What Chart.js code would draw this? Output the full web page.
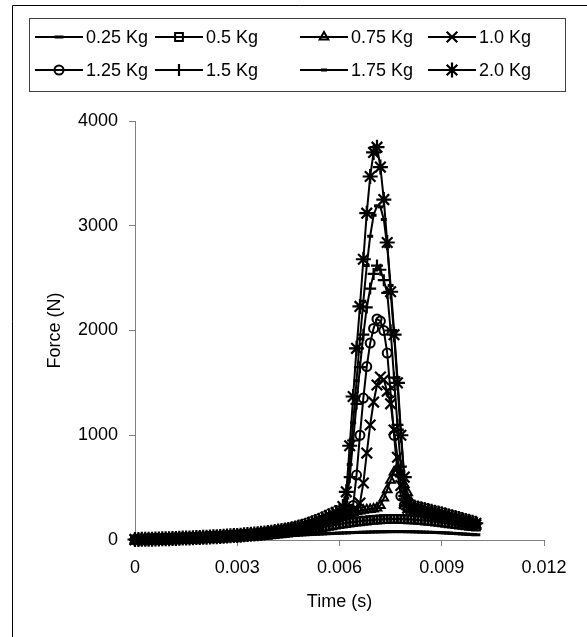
<!DOCTYPE html>
<html><head><meta charset="utf-8">
<script src="https://cdn.jsdelivr.net/npm/chart.js@4.4.0/dist/chart.umd.min.js"></script>
<style>
html,body{margin:0;padding:0;background:#fff;}
#wrap{position:relative;width:587px;height:637px;}
canvas{position:absolute;left:0;top:0;}
</style></head><body>
<div id="wrap"><canvas id="c" width="587" height="637"></canvas></div>
<script>
const times = [0,0.0001,0.0002,0.0003,0.0004,0.0005,0.0006,0.0007,0.0008,0.0009,
0.0010,0.0011,0.0012,0.0013,0.0014,0.0015,0.0016,0.0017,0.0018,0.0019,
0.0020,0.0021,0.0022,0.0023,0.0024,0.0025,0.0026,0.0027,0.0028,0.0029,
0.0030,0.0031,0.0032,0.0033,0.0034,0.0035,0.0036,0.0037,0.0038,0.0039,
0.0040,0.0041,0.0042,0.0043,0.0044,0.0045,0.0046,0.0047,0.0048,0.0049,
0.0050,0.0051,0.0052,0.0053,0.0054,0.0055,0.0056,0.0057,0.0058,0.0059,
0.0060,0.0061,0.0062,0.0063,0.0064,0.0065,0.0066,0.0067,0.0068,0.0069,
0.0070,0.0071,0.0072,0.0073,0.0074,0.0075,0.0076,0.0077,0.0078,0.0079,
0.0080,0.0081,0.0082,0.0083,0.0084,0.0085,0.0086,0.0087,0.0088,0.0089,
0.0090,0.0091,0.0092,0.0093,0.0094,0.0095,0.0096,0.0097,0.0098,0.0099,0.0100];

const seriesNames = ['0.25 Kg','0.5 Kg','0.75 Kg','1.0 Kg','1.25 Kg','1.5 Kg','1.75 Kg','2.0 Kg'];

const force025 = [0,1,1,2,2,3,3,4,4,5,6,
6,7,7,8,9,9,10,11,12,13,
13,14,15,16,17,18,19,20,21,22,
23,24,25,27,28,29,30,32,33,35,
36,38,39,41,42,44,45,47,49,50,
52,54,55,57,58,60,61,63,64,66,
67,68,70,71,72,73,74,75,76,77,
78,78,79,79,80,80,80,80,80,79,
79,78,77,76,75,74,73,72,71,69,
68,66,64,62,60,58,56,54,52,50];

const force050 = [2,3,3,4,4,5,6,6,7,8,8,
9,10,10,11,12,13,14,15,16,17,
18,19,20,21,23,24,26,27,29,31,
33,35,37,39,41,43,46,48,51,54,
57,60,63,67,71,75,79,84,89,94,
99,104,110,116,122,128,134,140,146,152,
157,162,167,171,175,179,183,186,189,192,
195,197,199,200,201,201,201,200,199,198,
196,194,192,189,186,183,180,176,172,168,
164,160,156,152,148,144,140,136,132,128];

const force075 = [3,3,4,5,5,6,7,7,8,9,10,
10,11,12,13,14,15,16,18,19,20,
21,22,24,25,27,28,30,32,34,36,
38,40,42,44,46,49,52,55,58,61,
65,69,73,77,82,87,93,99,106,113,
121,130,140,150,161,172,184,196,208,220,
232,243,253,262,270,277,283,288,292,296,
305,330,400,480,570,650,690,630,530,450,
360,312,300,290,280,270,260,250,240,230,
221,212,203,194,185,176,167,158,149,140];

const force100 = [3,4,4,5,6,6,7,8,9,9,10,
11,12,13,14,16,17,18,19,21,22,
23,25,26,28,30,31,33,35,37,39,
41,43,45,48,50,53,56,59,62,66,
70,74,78,83,88,94,100,107,114,122,
130,140,151,162,174,186,198,211,224,237,
250,262,273,283,292,353,544,830,1098,1317,
1480,1556,1530,1420,1300,1050,790,520,350,305,
298,290,282,274,266,258,250,242,234,226,
218,210,202,194,186,178,170,162,154,146];

const force125 = [4,4,5,5,6,7,8,9,9,10,11,
12,13,14,15,17,18,19,20,22,23,
24,26,27,29,31,33,35,37,39,41,
43,45,47,50,52,55,58,61,65,69,
73,77,82,87,93,99,105,112,120,128,
137,148,159,171,183,196,209,222,236,250,
264,278,292,330,620,1000,1355,1656,1880,2020,
2110,2090,2000,1785,1400,1000,650,420,330,305,
298,291,284,277,270,262,254,246,238,230,
222,214,206,198,190,181,172,163,154,146];

const force150 = [4,4,5,6,6,7,8,9,10,11,12,
13,14,15,16,17,19,20,21,23,24,
25,27,28,30,32,34,36,38,40,42,
44,46,49,51,54,57,60,63,67,71,
75,80,85,90,96,102,109,116,124,133,
143,154,166,178,191,205,219,233,248,262,
280,330,600,950,1300,1650,1960,2220,2400,2540,
2620,2580,2480,2360,2000,1550,1100,700,420,325,
314,306,298,290,282,274,266,258,250,242,
234,226,218,209,200,191,182,173,164,156];

const force175 = [4,5,5,6,7,8,9,9,10,11,12,
13,14,16,17,18,19,21,22,23,25,
26,28,29,31,33,35,37,39,41,43,
45,47,50,52,55,58,62,65,69,73,
78,82,87,92,98,105,112,120,128,138,
148,159,171,183,197,211,225,240,255,270,
300,400,720,1120,1520,1920,2280,2620,2900,3100,
3190,3180,3060,2800,2430,2000,1550,1050,600,340,
318,310,302,294,286,278,270,262,254,246,
238,229,220,211,202,193,184,175,166,158];

const force200 = [5,5,6,6,7,8,9,10,11,12,13,
14,15,17,18,19,20,22,23,24,26,
27,29,30,32,34,36,38,40,42,44,
46,49,52,54,57,60,64,67,71,75,
80,85,90,95,101,108,115,123,132,142,
153,164,176,189,203,217,232,247,262,278,
320,460,900,1370,1830,2230,2680,3120,3470,3700,
3750,3560,3250,2840,2370,1960,1500,1000,600,340,
322,314,306,298,290,282,274,266,258,250,
241,232,223,214,205,196,187,178,169,160];

const xTickValues = [0,0.003,0.006,0.009,0.012];
const xTickLabels = ['0','0.003','0.006','0.009','0.012'];
const yTickValues = [0,1000,2000,3000,4000];
const yTickLabels = ['0','1000','2000','3000','4000'];

const seriesValues = [force025,force050,force075,force100,force125,force150,force175,force200];

const markerStyles = [
  {pointStyle:'line', radius:4.5, borderWidth:3},
  {pointStyle:'rect', radius:5.5, borderWidth:2},
  {pointStyle:'triangle', radius:5, borderWidth:2},
  {pointStyle:'crossRot', radius:7.5, borderWidth:2.2},
  {pointStyle:'circle', radius:4.5, borderWidth:2},
  {pointStyle:'cross', radius:6, borderWidth:2.2},
  {pointStyle:'line', radius:3, borderWidth:3},
  {pointStyle:'star', radius:7.5, borderWidth:2.2}
];

const FONT = '"Liberation Sans", Arial, sans-serif';

const datasets = seriesNames.map((name, k) => ({
  label: name,
  data: times.map((t, i) => ({x: t, y: seriesValues[k][i]})),
  borderColor: '#000',
  borderWidth: 2,
  backgroundColor: 'rgba(0,0,0,0)',
  pointStyle: markerStyles[k].pointStyle,
  pointRadius: markerStyles[k].radius,
  pointBorderWidth: markerStyles[k].borderWidth,
  pointBorderColor: '#000',
  pointBackgroundColor: 'rgba(0,0,0,0)',
  tension: 0,
  clip: false,
  fill: false
}));

const boxLegend = {
  id: 'boxLegend',
  afterDraw(chart) {
    const ctx = chart.ctx;
    ctx.save();
    ctx.strokeStyle = '#000';
    ctx.lineWidth = 1;
    ctx.beginPath();
    ctx.moveTo(12.5, 637);
    ctx.lineTo(12.5, 5.5);
    ctx.lineTo(587, 5.5);
    ctx.stroke();
    ctx.strokeStyle = '#404040';
    ctx.strokeRect(29.5, 18.5, 536, 73);
    const colX = [35, 155, 300, 428];
    const rowY = [37, 70];
    const sampleLen = 48;
    ctx.font = '18px ' + FONT;
    ctx.textBaseline = 'middle';
    ctx.textAlign = 'left';
    seriesNames.forEach((name, k) => {
      const x = colX[k % 4];
      const y = rowY[Math.floor(k / 4)];
      ctx.strokeStyle = '#000';
      ctx.lineWidth = 2;
      ctx.beginPath();
      ctx.moveTo(x, y);
      ctx.lineTo(x + sampleLen, y);
      ctx.stroke();
      ctx.fillStyle = 'rgba(0,0,0,0)';
      ctx.lineWidth = markerStyles[k].borderWidth;
      Chart.helpers.drawPoint(ctx, {
        pointStyle: markerStyles[k].pointStyle,
        radius: markerStyles[k].radius,
        borderWidth: markerStyles[k].borderWidth,
        rotation: 0
      }, x + sampleLen / 2, y);
      ctx.fillStyle = '#000';
      ctx.fillText(name, x + sampleLen + 3, y + 1);
    });
    ctx.restore();
  }
};

new Chart(document.getElementById('c'), {
  type: 'line',
  data: {datasets},
  options: {
    responsive: false,
    animation: false,
    events: [],
    layout: {padding: {left: 13, top: 121, right: 43, bottom: 0}},
    plugins: {legend: {display: false}, tooltip: {enabled: false}},
    scales: {
      x: {
        type: 'linear',
        min: 0, max: 0.012,
        afterFit: s => { s.height = 97; },
        afterBuildTicks: s => { s.ticks = xTickValues.map(v => ({value: v})); },
        ticks: {
          callback: (v, i) => xTickLabels[i],
          font: {family: FONT, size: 18},
          color: '#000',
          padding: 11,
          maxRotation: 0,
          autoSkip: false
        },
        grid: {display: true, drawOnChartArea: false, drawTicks: true, tickLength: 6, color: '#808080', lineWidth: 1},
        border: {display: true, color: '#808080', width: 1},
        title: {display: true, text: 'Time (s)', font: {family: FONT, size: 18}, color: '#000', padding: {top: 0, bottom: 24}}
      },
      y: {
        min: 0, max: 4000,
        afterFit: s => { s.width = 122; },
        afterBuildTicks: s => { s.ticks = yTickValues.map(v => ({value: v})); },
        ticks: {
          callback: (v, i) => yTickLabels[i],
          font: {family: FONT, size: 18},
          color: '#000',
          padding: 11
        },
        grid: {display: true, drawOnChartArea: false, drawTicks: true, tickLength: 6, color: '#808080', lineWidth: 1},
        border: {display: true, color: '#808080', width: 1},
        title: {display: true, text: 'Force (N)', font: {family: FONT, size: 18}, color: '#000', padding: {top: 31, bottom: 0}}
      }
    }
  },
  plugins: [boxLegend]
});
</script>
</body></html>
